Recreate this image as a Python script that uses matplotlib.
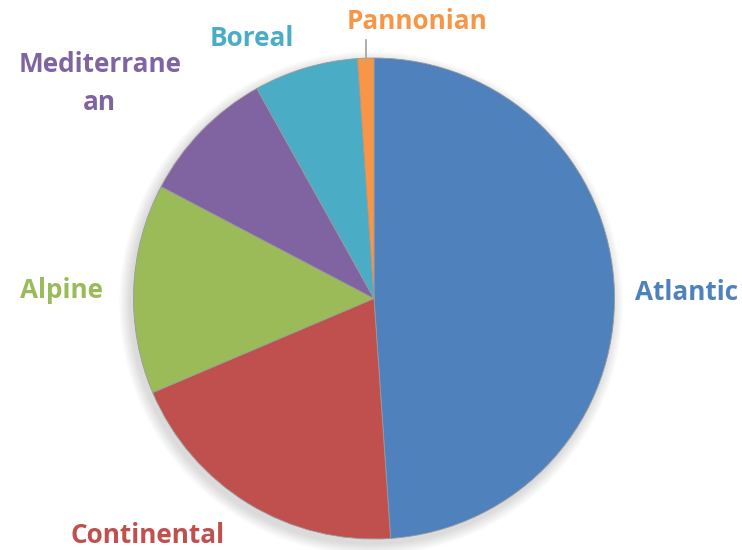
import matplotlib
matplotlib.use("Agg")
import matplotlib.pyplot as plt
from matplotlib.patches import Circle

categories = ["Atlantic", "Continental", "Alpine", "Mediterranean", "Boreal", "Pannonian"]
values = [48.9, 19.7, 14.1, 9.2, 7.0, 1.1]
label_texts = ["Atlantic", "Continental", "Alpine", "Mediterrane\nan", "Boreal", "Pannonian"]
colors = ["#4F81BD", "#C0504D", "#9BBB59", "#8064A2", "#4BACC6", "#F79646"]

W, H = 742, 550
fig = plt.figure(figsize=(W / 100, H / 100), dpi=100)
cx, cy, r = 374, 298.5, 240.5
ax = fig.add_axes([(cx - r) / W, (H - cy - r) / H, 2 * r / W, 2 * r / H])

# soft shadow
for i in range(12):
    c = Circle((-0.012, -0.02), 1.0 + 0.004 * (12 - i), color="black",
               alpha=0.012, lw=0, zorder=0, clip_on=False)
    ax.add_patch(c)

ax.pie(values, colors=colors, startangle=90, counterclock=False, radius=1,
       wedgeprops=dict(linewidth=0.6, edgecolor="#9a9a9a"))
ax.set_xlim(-1, 1)
ax.set_ylim(-1, 1)
ax.set_aspect("equal")
ax.axis("off")

label_pos = [(1.30, 0.027), (-0.94, -0.985), (-1.30, 0.032), (-1.14, 0.895),
             (-0.51, 1.083), (0.18, 1.152)]
for txt, (x, y), col in zip(label_texts, label_pos, colors):
    ax.text(x, y, txt, color=col, fontsize=18.8, fontweight="bold",
            family="Open Sans", ha="center", va="center",
            multialignment="center", linespacing=1.5, clip_on=False)

ax.plot([-0.035, -0.035], [1.0, 1.075], color="#a0a0a0", lw=1.2, clip_on=False)

fig.savefig("out.png", dpi=100)
